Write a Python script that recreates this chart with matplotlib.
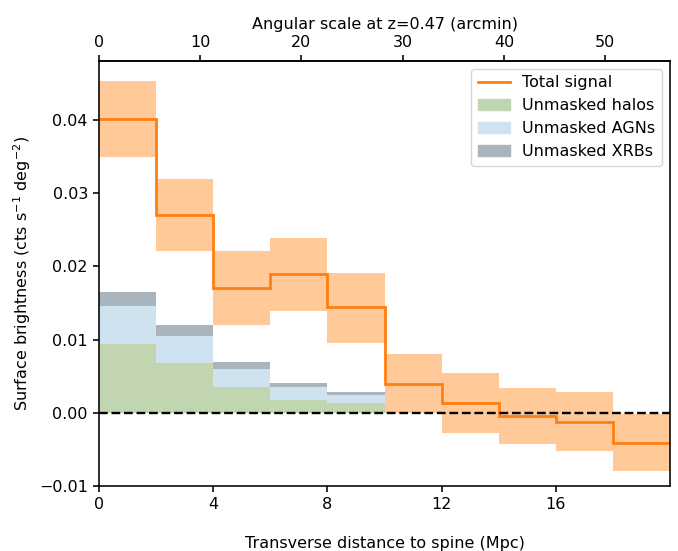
import numpy as np
import matplotlib
matplotlib.use("Agg")
import matplotlib.pyplot as plt
from matplotlib.patches import Patch
from matplotlib.lines import Line2D

plt.rcParams.update({"font.size": 11.5, "axes.linewidth": 1.15,
                     "xtick.major.width": 1.15, "ytick.major.width": 1.15,
                     "xtick.major.size": 4.5, "ytick.major.size": 4.5})

edges = [0, 2, 4, 6, 8, 10, 12, 14, 16, 18, 20]
total = [0.0401, 0.0270, 0.0171, 0.0189, 0.0145, 0.0040, 0.0014, -0.0004, -0.0012, -0.0041]
total_hi = [0.0454, 0.0320, 0.0221, 0.0239, 0.0191, 0.0081, 0.0055, 0.0034, 0.0028, -0.0002]
total_lo = [0.0349, 0.0221, 0.0120, 0.0139, 0.0096, 0.0000, -0.0027, -0.0042, -0.0052, -0.0079]

stack_edges = [0, 2, 4, 6, 8, 10]
halos = [0.0094, 0.0068, 0.0035, 0.0017, 0.0013]
agns = [0.0052, 0.00375, 0.0025, 0.0018, 0.0012]
xrbs = [0.0019, 0.00145, 0.0010, 0.0006, 0.0003]

top_ticks = [0, 10, 20, 30, 40, 50]
ARCMIN_PER_MPC = 2.82

fig = plt.figure(figsize=(6.78, 5.51), dpi=100)
ax = fig.add_axes([99/678, 1 - 486/551, (670-99)/678, (486-61)/551])

c_band = "#ffc999"
c_line = "#ff7f0e"
c_halo = "#c1d5b0"
c_agn = "#cfe2f0"
c_xrb = "#aab4bc"

ax.stairs(total_hi, edges, baseline=total_lo, fill=True, color=c_band, lw=0)

h = np.array(halos)
a = h + np.array(agns)
x = a + np.array(xrbs)
ax.stairs(h, stack_edges, baseline=0, fill=True, color=c_halo, lw=0)
ax.stairs(a, stack_edges, baseline=h, fill=True, color=c_agn, lw=0)
ax.stairs(x, stack_edges, baseline=a, fill=True, color=c_xrb, lw=0)

ax.stairs(total, edges, baseline=None, color=c_line, lw=2.0)
ax.axhline(0, color="k", ls="--", lw=1.7)

ax.set_xlim(0, 20)
ax.set_xticks([0, 4, 8, 12, 16])
ax.set_xlabel("Transverse distance to spine (Mpc)", labelpad=17)
ax.set_ylabel(r"Surface brightness (cts s$^{-1}$ deg$^{-2}$)")
ax.set_yticks([-0.01, 0.0, 0.01, 0.02, 0.03, 0.04])

sec = ax.secondary_xaxis("top", functions=(lambda v: v * ARCMIN_PER_MPC, lambda v: v / ARCMIN_PER_MPC))
sec.set_xticks(top_ticks)
sec.set_xlabel("Angular scale at z=0.47 (arcmin)")

handles = [Line2D([], [], color=c_line, lw=2.0),
           Patch(color=c_halo), Patch(color=c_agn), Patch(color=c_xrb)]
labels = ["Total signal", "Unmasked halos", "Unmasked AGNs", "Unmasked XRBs"]
ax.legend(handles, labels, loc="upper right")

fig.savefig("out.png", dpi=100)
